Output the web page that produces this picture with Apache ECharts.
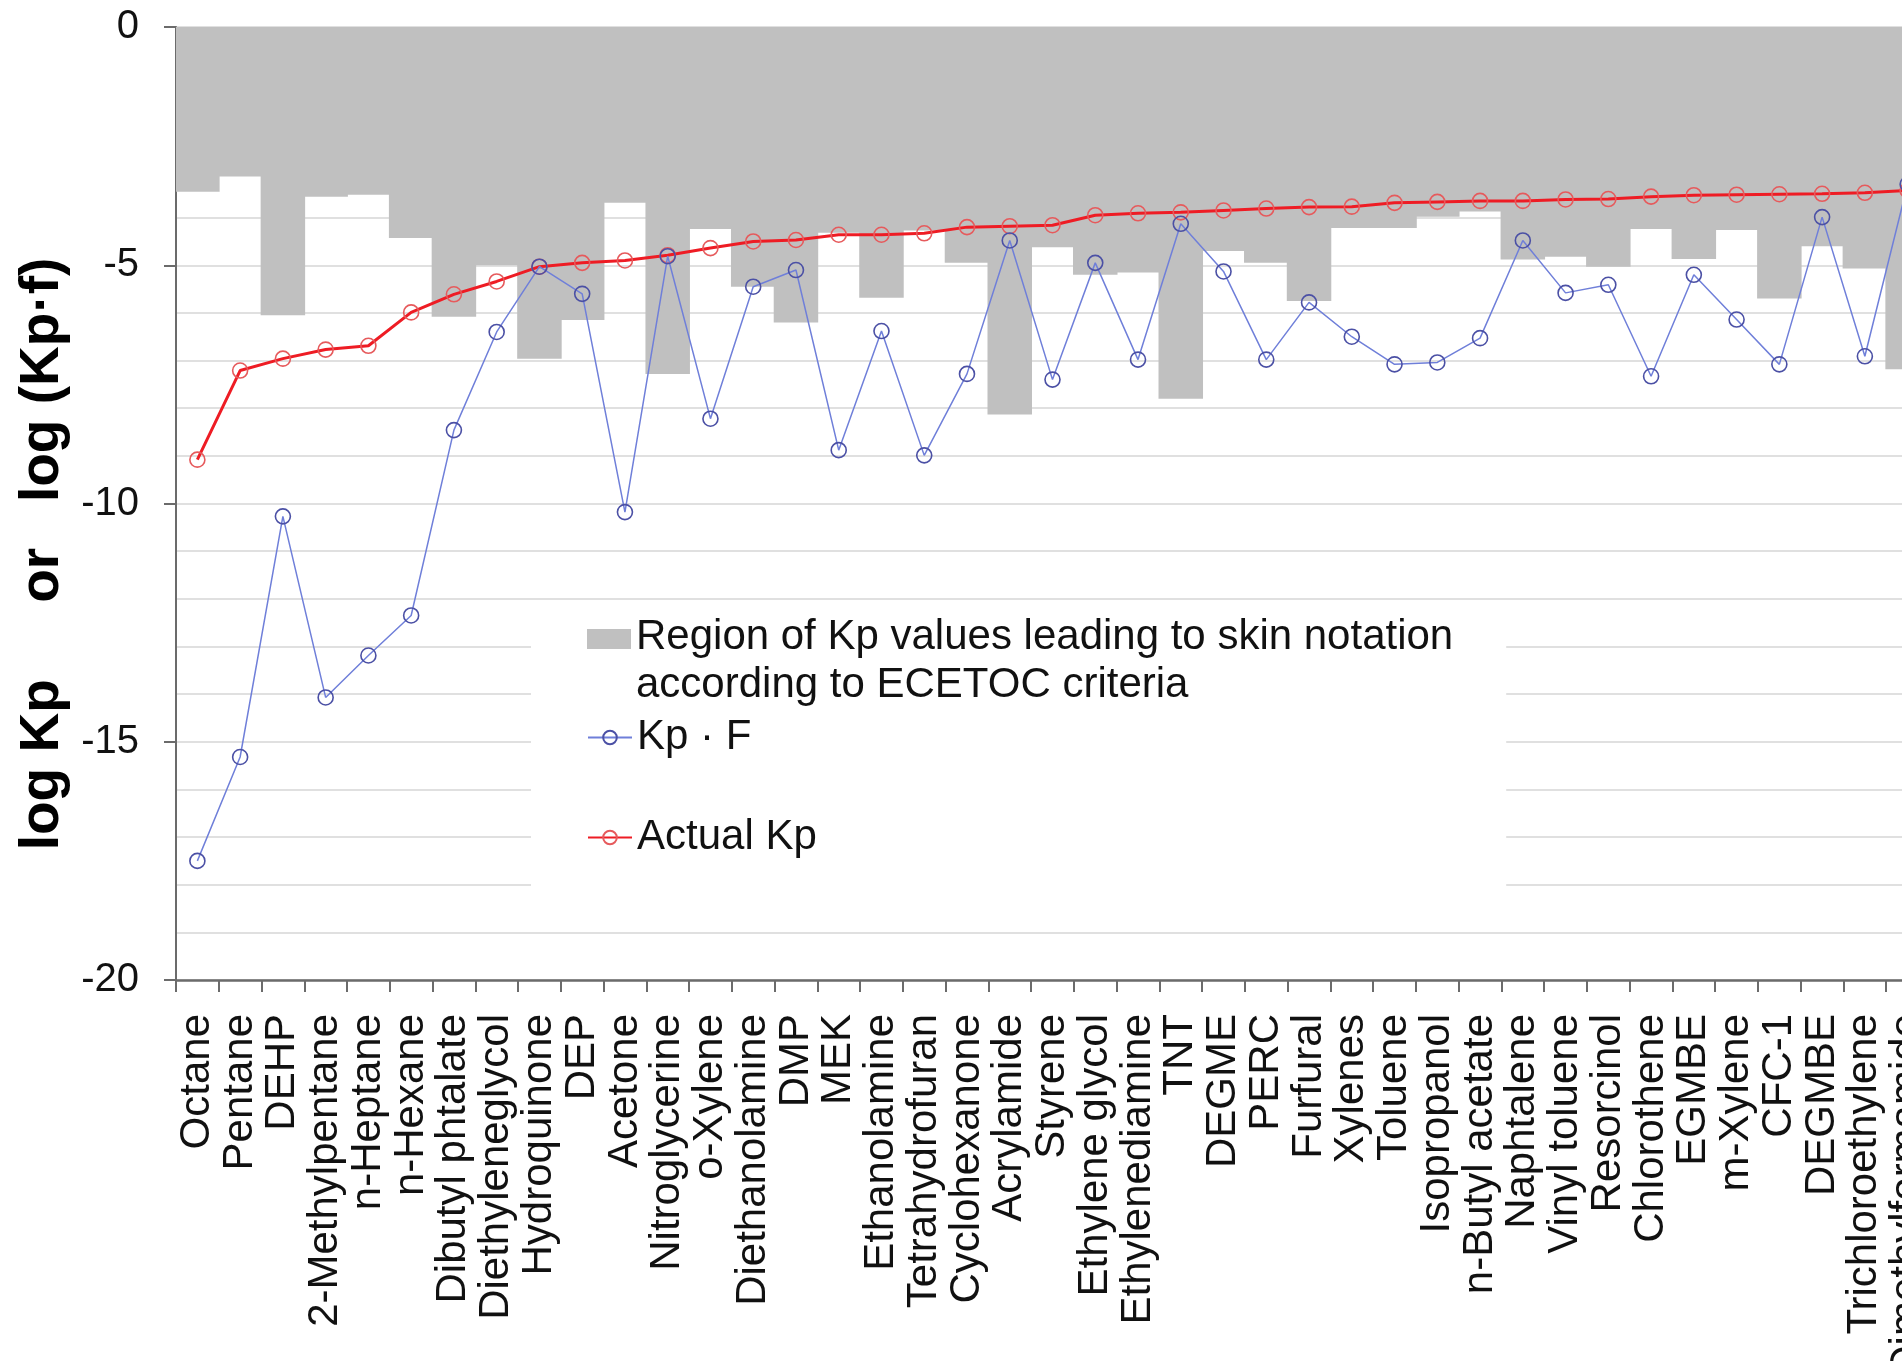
<!DOCTYPE html>
<html>
<head>
<meta charset="utf-8">
<title>log Kp or log (Kp·f)</title>
<script src="https://cdn.jsdelivr.net/npm/echarts@6/dist/echarts.min.js"></script>
<style>
  html, body { margin: 0; padding: 0; background: #ffffff; }
  #chart { width: 1902px; height: 1361px; }
</style>
</head>
<body>
<div id="chart"></div>
<script>
// Substances, ordered by measured permeability coefficient
const categories = [
  'Octane', 'Pentane', 'DEHP', '2-Methylpentane', 'n-Heptane', 'n-Hexane',
  'Dibutyl phtalate', 'Diethyleneglycol', 'Hydroquinone', 'DEP', 'Acetone',
  'Nitroglycerine', 'o-Xylene', 'Diethanolamine', 'DMP', 'MEK', 'Ethanolamine',
  'Tetrahydrofuran', 'Cyclohexanone', 'Acrylamide', 'Styrene', 'Ethylene glycol',
  'Ethylenediamine', 'TNT', 'DEGME', 'PERC', 'Furfural', 'Xylenes', 'Toluene',
  'Isopropanol', 'n-Butyl acetate', 'Naphtalene', 'Vinyl toluene', 'Resorcinol',
  'Chlorothene', 'EGMBE', 'm-Xylene', 'CFC-1', 'DEGMBE', 'Trichloroethylene',
  'Dimethylformamide'
];

// Lower bound of the Kp region that leads to a skin notation (log units)
const skinNotationLimit = [
  -3.46, -3.14, -6.05, -3.56, -3.52, -4.43, -6.08, -5.00, -6.96, -6.15, -3.69,
  -7.28, -4.24, -5.45, -6.20, -4.32, -5.68, -4.27, -4.95, -8.13, -4.62, -5.20,
  -5.15, -7.80, -4.70, -4.95, -5.75, -4.22, -4.22, -3.98, -3.87, -4.88, -4.82,
  -5.03, -4.24, -4.87, -4.26, -5.70, -4.60, -5.07, -7.18
];

// log (Kp · F)
const kpTimesF = [
  -17.50, -15.32, -10.27, -14.07, -13.19, -12.35, -8.46, -6.40, -5.03, -5.60,
  -10.18, -4.81, -8.22, -5.45, -5.10, -8.88, -6.38, -8.99, -7.28, -4.48, -7.40,
  -4.95, -6.98, -4.13, -5.13, -6.98, -5.78, -6.50, -7.08, -7.04, -6.53, -4.48,
  -5.58, -5.41, -7.33, -5.20, -6.14, -7.08, -3.99, -6.91, -3.30
];

// log Kp, measured
const actualKp = [
  -9.08, -7.21, -6.96, -6.77, -6.69, -5.99, -5.61, -5.34, -5.03, -4.95, -4.90,
  -4.79, -4.64, -4.50, -4.47, -4.36, -4.36, -4.33, -4.20, -4.18, -4.16, -3.95,
  -3.91, -3.89, -3.85, -3.81, -3.78, -3.77, -3.69, -3.67, -3.65, -3.65, -3.62,
  -3.61, -3.56, -3.53, -3.52, -3.51, -3.50, -3.48, -3.43
];

// Value-axis tick labels, top to bottom
const yTickLabels = ['0', '-5', '-10', '-15', '-20'];

const FONT = '"Liberation Sans", Arial, Helvetica, sans-serif';
const REGION_NAME = 'Region of Kp values leading to skin notation according to ECETOC criteria';
const KPF_NAME = 'Kp \u00b7 F';
const ACTUAL_NAME = 'Actual Kp';

const yMax = Number(yTickLabels[0]);
const yMin = Number(yTickLabels[yTickLabels.length - 1]);
const yStep = yMax - Number(yTickLabels[1]);

// Legend swatch for the shaded region: a bar-shaped block sitting beside the
// first line of a two-line label (zero-area corner points fix the icon frame)
const REGION_ICON = 'path://M0,0L0,0Z M0,15.5h44v20h-44z M44,96L44,96Z';

const chart = echarts.init(document.getElementById('chart'), null, { renderer: 'canvas' });

chart.setOption({
  animation: false,
  backgroundColor: '#ffffff',
  textStyle: { fontFamily: FONT },
  grid: {
    left: 176,
    top: 27,
    right: -27,
    bottom: 381,
    containLabel: false,
    outerBoundsMode: 'none'
  },
  legend: [
    {
      // Shaded-region entry; its white panel also masks the grid behind the key
      data: [REGION_NAME],
      orient: 'vertical',
      left: 531,
      top: 607,
      padding: [6.5, 53, 216, 56],
      backgroundColor: '#ffffff',
      itemWidth: 44,
      itemHeight: 96,
      itemGap: 0,
      icon: REGION_ICON,
      itemStyle: { color: '#c0c0c0', borderWidth: 0 },
      selectedMode: false,
      formatter: name => name.replace(' according', '\naccording'),
      textStyle: { fontSize: 42, lineHeight: 48, color: '#111111', fontFamily: FONT },
      z: 4
    },
    {
      data: [KPF_NAME, ACTUAL_NAME],
      orient: 'vertical',
      left: 587,
      top: 713.5,
      padding: 0,
      itemWidth: 44,
      itemHeight: 17,
      itemGap: 52,
      selectedMode: false,
      textStyle: { fontSize: 42, lineHeight: 48, color: '#111111', fontFamily: FONT },
      z: 5
    }
  ],
  xAxis: {
    type: 'category',
    data: categories,
    boundaryGap: true,
    axisLine: { show: true, onZero: false, lineStyle: { color: '#6b6b6b', width: 2.5 } },
    axisTick: { show: true, interval: 0, alignWithLabel: false, length: 12,
                lineStyle: { color: '#6b6b6b', width: 2 } },
    axisLabel: { interval: 0, rotate: 90, fontSize: 42, color: '#111111',
                 margin: 34, fontFamily: FONT },
    splitLine: { show: false },
    splitArea: { show: false }
  },
  yAxis: {
    type: 'value',
    min: yMin,
    max: yMax,
    interval: yStep,
    name: 'log Kp     or   log (Kp\u00b7f)',
    nameLocation: 'middle',
    nameRotate: 90,
    nameGap: 105,
    nameTextStyle: { fontSize: 55, fontWeight: 'bold', color: '#000000',
                     fontFamily: FONT, padding: [0, 101, 0, 0] },
    axisLine: { show: true, lineStyle: { color: '#6b6b6b', width: 2 } },
    axisTick: { show: true, length: 12, lineStyle: { color: '#6b6b6b', width: 2 } },
    axisLabel: { fontSize: 40, color: '#111111', margin: 37, fontFamily: FONT,
                 formatter: v => String(v) },
    splitLine: { show: true, lineStyle: { color: '#d6d6d6', width: 1.5 } },
    minorTick: { show: false, splitNumber: 5 },
    minorSplitLine: { show: true, lineStyle: { color: '#d6d6d6', width: 1.5 } }
  },
  series: [
    {
      name: REGION_NAME,
      type: 'bar',
      data: skinNotationLimit,
      // slightly wider than one band so neighbouring blocks merge without seams
      barWidth: 44.5,
      barGap: '0%',
      itemStyle: { color: '#c0c0c0', borderWidth: 0 },
      emphasis: { disabled: true },
      silent: true,
      z: 2
    },
    {
      name: ACTUAL_NAME,
      type: 'line',
      data: actualKp,
      symbol: 'circle',
      symbolSize: 15,
      showAllSymbol: true,
      lineStyle: { color: '#ee1c24', width: 3 },
      itemStyle: { color: 'rgba(255,255,255,0)', borderColor: '#e65a5c', borderWidth: 1.6 },
      emphasis: { disabled: true },
      z: 3
    },
    {
      name: KPF_NAME,
      type: 'line',
      data: kpTimesF,
      symbol: 'circle',
      symbolSize: 15,
      showAllSymbol: true,
      lineStyle: { color: '#6f7fd9', width: 1.5 },
      itemStyle: { color: 'rgba(255,255,255,0)', borderColor: '#4b50a5', borderWidth: 1.6 },
      emphasis: { disabled: true },
      z: 4
    }
  ]
});
</script>
</body>
</html>
